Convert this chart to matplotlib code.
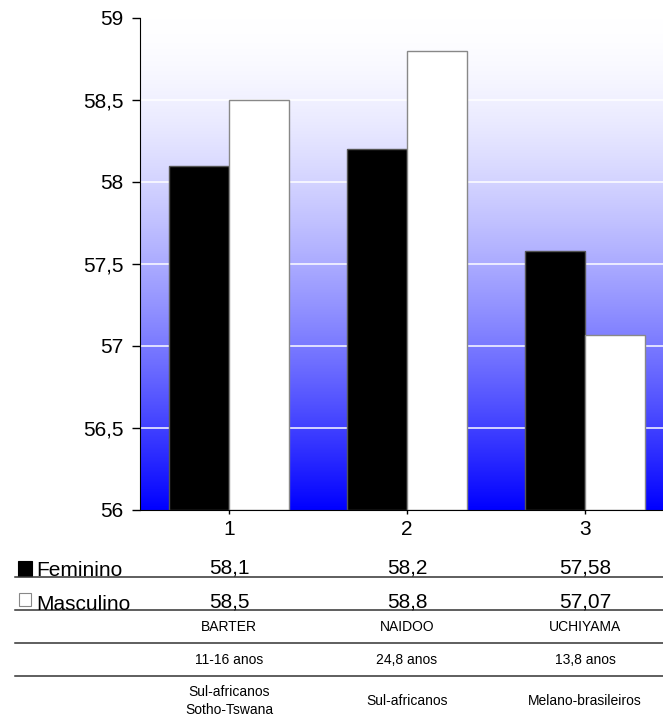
import matplotlib
matplotlib.use("Agg")
import matplotlib.pyplot as plt
import matplotlib.transforms as mtransforms
from matplotlib.patches import Rectangle
from matplotlib.lines import Line2D
from matplotlib.ticker import FuncFormatter
import numpy as np

plt.rcParams['font.family'] = ['Liberation Sans', 'DejaVu Sans']

categories = ['1', '2', '3']
feminino = [58.1, 58.2, 57.58]
masculino = [58.5, 58.8, 57.07]
autores = ['BARTER', 'NAIDOO', 'UCHIYAMA']
idades = ['11-16 anos', '24,8 anos', '13,8 anos']
populacoes = ['Sul-africanos\nSotho-Tswana', 'Sul-africanos', 'Melano-brasileiros']
series_names = ['Feminino', 'Masculino']

W, H = 663, 722
fig = plt.figure(figsize=(W / 100, H / 100), dpi=100)

# axes in pixel units -> figure fractions (plot runs a bit past the right edge)
left, right, top, bottom = 140, 674, 18, 510
ax = fig.add_axes([left / W, 1 - bottom / H, (right - left) / W, (bottom - top) / H])

x = np.arange(len(categories))
bw = 0.337

# gradient background, white at top to blue at bottom
t = np.linspace(0, 1, 256) ** 1.6
grad = np.zeros((256, 1, 3))
grad[:, 0, 0] = 1 - t
grad[:, 0, 1] = 1 - t
grad[:, 0, 2] = 1
ax.imshow(grad, extent=[-0.5, 2.5, 56, 59], aspect='auto', zorder=0, origin='upper')

for yv in [56.5, 57, 57.5, 58, 58.5]:
    ax.axhline(yv, color='white', lw=1.2, zorder=1, alpha=0.9)

ax.bar(x - bw / 2, [v - 56 for v in feminino], bw, bottom=56, color='black',
       edgecolor='#555555', lw=1, zorder=2)
ax.bar(x + bw / 2, [v - 56 for v in masculino], bw, bottom=56, color='white',
       edgecolor='#888888', lw=1, zorder=2)

ax.set_xlim(-0.5, 2.5)
ax.set_ylim(56, 59)
ax.set_yticks([56, 56.5, 57, 57.5, 58, 58.5, 59])
ax.yaxis.set_major_formatter(FuncFormatter(lambda v, p: ('%g' % v).replace('.', ',')))
ax.set_xticks(x)
ax.set_xticklabels(categories)
ax.tick_params(axis='y', labelsize=15, length=6, width=1, pad=6)
ax.tick_params(axis='x', labelsize=15, length=3, width=1, pad=4)
for s in ['top', 'right']:
    ax.spines[s].set_visible(False)
ax.spines['left'].set_color('black')
ax.spines['bottom'].set_color('black')
ax.spines['left'].set_zorder(3)
ax.spines['bottom'].set_zorder(3)

# data table below the chart
tr = mtransforms.blended_transform_factory(ax.transData, fig.transFigure)

def fy(py):
    return 1 - py / H

for py in [577, 610, 643, 676]:
    fig.add_artist(Line2D([15 / W, 1], [fy(py), fy(py)], color='#333333', lw=1.1))

# legend keys
fig.add_artist(Rectangle((18 / W, fy(576)), 14 / W, 15 / H, facecolor='black',
                         edgecolor='black', lw=0.8, transform=fig.transFigure))
fig.add_artist(Rectangle((19 / W, fy(606)), 12 / W, 13 / H, facecolor='white',
                         edgecolor='#888888', lw=0.8, transform=fig.transFigure))
fig.text(36 / W, fy(576), series_names[0], fontsize=15, va='baseline', ha='left')
fig.text(36 / W, fy(610), series_names[1], fontsize=15, va='baseline', ha='left')

for i in range(len(categories)):
    fig.text(x[i], fy(574), str(feminino[i]).replace('.', ','), transform=tr,
             fontsize=15, ha='center', va='baseline')
    fig.text(x[i], fy(608), str(masculino[i]).replace('.', ','), transform=tr,
             fontsize=15, ha='center', va='baseline')
    fig.text(x[i], fy(627), autores[i], transform=tr, fontsize=10,
             ha='center', va='center')
    fig.text(x[i], fy(660), idades[i], transform=tr, fontsize=10,
             ha='center', va='center')
    fig.text(x[i], fy(701), populacoes[i], transform=tr, fontsize=10,
             ha='center', va='center', linespacing=1.4)

fig.savefig('out.png', dpi=100)
